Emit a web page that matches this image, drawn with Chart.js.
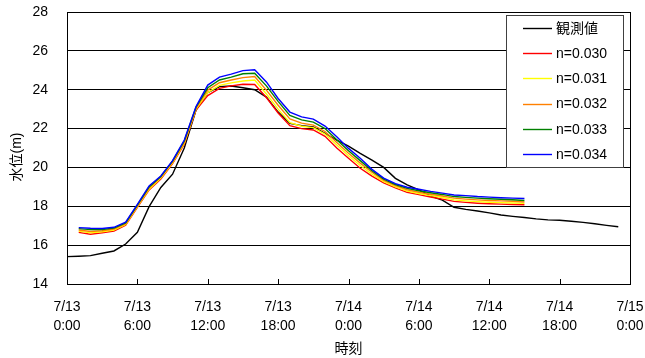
<!DOCTYPE html>
<html>
<head>
<meta charset="utf-8">
<script src="https://cdn.jsdelivr.net/npm/chart.js@4.4.1/dist/chart.umd.min.js"></script>
<style>
  html, body { margin: 0; padding: 0; background: #ffffff; }
  #wrap { width: 645px; height: 358px; }
</style>
</head>
<body>
<div id="wrap"><canvas id="c" width="645" height="358"></canvas></div>
<script>
// Hours elapsed since 7/13 0:00
const obsHours = [0,1,2,3,4,5,6,7,8,9,10,11,12,13,14,15,16,17,18,19,20,21,22,23,
                  24,25,26,27,28,29,30,31,32,33,34,35,36,37,38,39,40,41,42,43,44,45,46,47];
const simHours = [1,2,3,4,5,6,7,8,9,10,11,12,13,14,15,16,17,18,19,20,
                  21,22,23,24,25,26,27,28,29,30,31,32,33,34,35,36,37,38,39];

// Observed water level (m)
const observed = [15.41,15.43,15.46,15.58,15.70,16.06,16.66,17.98,18.97,19.65,21.00,22.95,
                  23.85,24.16,24.19,24.10,24.00,23.62,22.85,22.27,22.15,22.08,21.75,21.40,
                  21.10,20.72,20.38,20.00,19.44,19.10,18.84,18.53,18.32,17.95,17.84,17.76,
                  17.66,17.55,17.48,17.42,17.35,17.30,17.28,17.23,17.17,17.10,17.02,16.95];

// Computed water level (m) for each roughness coefficient
const n030 = [16.66,16.56,16.64,16.73,17.02,17.95,18.84,19.40,20.20,21.20,22.95,23.70,24.07,
              24.20,24.28,24.27,23.60,22.80,22.15,22.00,21.93,21.60,21.00,20.47,19.96,19.55,
              19.20,18.95,18.72,18.60,18.48,18.37,18.25,18.20,18.16,18.13,18.11,18.09,18.08];
const n031 = [16.72,16.63,16.69,16.78,17.06,17.98,18.88,19.45,20.24,21.25,23.00,23.85,24.22,
              24.35,24.45,24.50,23.78,23.00,22.30,22.12,22.05,21.72,21.15,20.60,20.10,19.65,
              19.27,19.00,18.78,18.66,18.55,18.45,18.33,18.28,18.24,18.21,18.19,18.17,18.15];
const n032 = [16.78,16.70,16.74,16.83,17.10,18.02,18.94,19.50,20.28,21.30,23.05,23.98,24.36,
              24.50,24.62,24.68,23.98,23.20,22.50,22.28,22.18,21.85,21.28,20.73,20.22,19.75,
              19.33,19.06,18.85,18.72,18.62,18.53,18.42,18.37,18.33,18.30,18.28,18.26,18.22];
const n033 = [16.85,16.80,16.80,16.88,17.14,18.06,19.00,19.53,20.32,21.36,23.10,24.10,24.50,
              24.65,24.82,24.85,24.20,23.40,22.68,22.45,22.33,22.00,21.43,20.86,20.35,19.83,
              19.40,19.12,18.92,18.80,18.70,18.61,18.50,18.46,18.42,18.39,18.36,18.34,18.30];
const n034 = [16.90,16.87,16.86,16.92,17.18,18.10,19.05,19.56,20.35,21.41,23.13,24.24,24.65,
              24.80,24.98,25.03,24.40,23.55,22.85,22.60,22.49,22.13,21.58,20.98,20.47,19.90,
              19.45,19.17,18.98,18.88,18.77,18.68,18.58,18.55,18.50,18.47,18.44,18.42,18.40];

const seriesNames = ['観測値','n=0.030','n=0.031','n=0.032','n=0.033','n=0.034'];
const seriesColors = ['#000000','#ff0000','#ffff00','#ff8000','#008000','#0000ff'];

// Axis tick labels (every 6 hours)
const tickDates = ['7/13','7/13','7/13','7/13','7/14','7/14','7/14','7/14','7/15'];
const tickTimes = ['0:00','6:00','12:00','18:00','0:00','6:00','12:00','18:00','0:00'];
const yTicks = [14,16,18,20,22,24,26,28];

const FONT = "'Liberation Sans', Arial, 'Noto Sans CJK JP', sans-serif";

function pairs(xs, ys) { return xs.map((x, i) => ({ x: x, y: ys[i] })); }

const seriesData = [
  pairs(obsHours, observed),
  pairs(simHours, n030),
  pairs(simHours, n031),
  pairs(simHours, n032),
  pairs(simHours, n033),
  pairs(simHours, n034)
];

const datasets = seriesData.map((d, i) => ({
  label: seriesNames[i],
  data: d,
  borderColor: seriesColors[i],
  backgroundColor: seriesColors[i],
  borderWidth: 1.4,
  pointRadius: 0,
  tension: 0,
  fill: false,
  order: seriesNames.length - i
}));

// Frame, inward x ticks, y-axis title and the boxed legend
const decor = {
  id: 'decor',
  afterDatasetsDraw(chart) {
    const ctx = chart.ctx;
    const a = chart.chartArea;
    const xs = chart.scales.x;
    ctx.save();
    ctx.strokeStyle = '#000000';
    ctx.lineWidth = 1;
    ctx.strokeRect(Math.round(a.left) + 0.5, Math.round(a.top) + 0.5,
                   Math.round(a.right - a.left), Math.round(a.bottom - a.top));
    xs.ticks.forEach(t => {
      const px = Math.round(xs.getPixelForValue(t.value)) + 0.5;
      ctx.beginPath();
      ctx.moveTo(px, a.bottom);
      ctx.lineTo(px, a.bottom - 5);
      ctx.stroke();
    });

    // legend
    const lx = 506, ly = 15, lw = 117, lh = 152;
    ctx.fillStyle = '#ffffff';
    ctx.fillRect(lx, ly, lw, lh);
    ctx.strokeStyle = '#404040';
    ctx.strokeRect(lx + 0.5, ly + 0.5, lw, lh);
    ctx.font = '14px ' + FONT;
    ctx.textBaseline = 'middle';
    ctx.textAlign = 'left';
    chart.data.datasets.forEach((ds, i) => {
      const cy = 28 + i * 25.2;
      ctx.strokeStyle = ds.borderColor;
      ctx.lineWidth = 1.4;
      ctx.beginPath();
      ctx.moveTo(523, Math.round(cy) + 0.5);
      ctx.lineTo(552, Math.round(cy) + 0.5);
      ctx.stroke();
      ctx.fillStyle = '#000000';
      ctx.fillText(ds.label, 556, cy + 1);
    });

    // y-axis title
    ctx.translate(17, 157);
    ctx.rotate(-Math.PI / 2);
    ctx.textAlign = 'center';
    ctx.fillStyle = '#000000';
    ctx.font = '14px ' + FONT;
    ctx.fillText('水位(m)', 0, 0);
    ctx.restore();
  }
};

new Chart(document.getElementById('c'), {
  type: 'line',
  data: { datasets: datasets },
  plugins: [decor],
  options: {
    responsive: false,
    animation: false,
    devicePixelRatio: 1,
    layout: { padding: { left: 0, top: 12, right: 15, bottom: 0 } },
    plugins: { legend: { display: false }, tooltip: { enabled: false } },
    scales: {
      x: {
        type: 'linear',
        min: 0,
        max: 48,
        afterFit(s) { s.height = 74; s.paddingLeft = 0; s.paddingRight = 0; },
        afterBuildTicks(s) { s.ticks = tickDates.map((_, i) => ({ value: i * 6 })); },
        ticks: {
          autoSkip: false,
          maxRotation: 0,
          padding: 14,
          color: '#000000',
          font: { family: FONT, size: 14, lineHeight: 1.36 },
          callback: (v) => [tickDates[v / 6], tickTimes[v / 6]]
        },
        grid: { display: false, drawTicks: false },
        border: { display: true, color: '#000000', width: 1 },
        title: {
          display: true,
          text: '時刻',
          color: '#000000',
          font: { family: FONT, size: 14 },
          padding: { top: 0, bottom: 0 }
        }
      },
      y: {
        min: 14,
        max: 28,
        afterFit(s) { s.width = 67; s.paddingTop = 0; s.paddingBottom = 0; },
        afterBuildTicks(s) { s.ticks = yTicks.map(v => ({ value: v })); },
        ticks: {
          padding: 19,
          color: '#000000',
          font: { family: FONT, size: 14 }
        },
        grid: { color: '#000000', lineWidth: 1, drawTicks: false },
        border: { display: true, color: '#000000', width: 1 }
      }
    }
  }
});
</script>
</body>
</html>
